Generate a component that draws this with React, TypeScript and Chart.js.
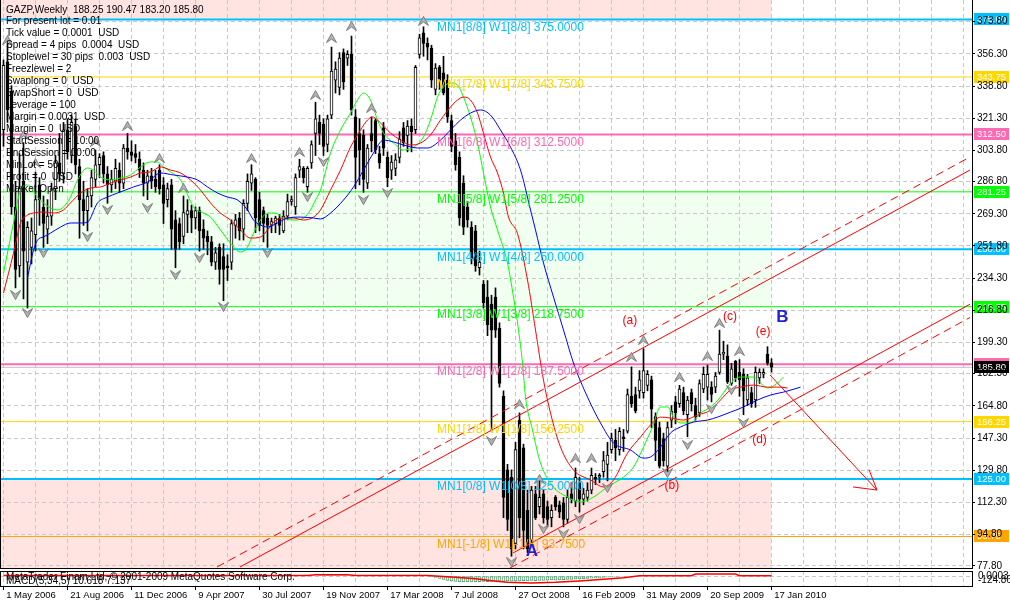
import React, { useEffect, useRef } from 'react';
import { Chart, registerables } from 'chart.js';

Chart.register(...registerables);

const FONT = '"Liberation Sans", Arial, sans-serif';

// ---------- weekly candles (GAZP) ----------
const opens = [
  315, 352, 336, 273, 241, 287, 243, 251, 258, 285,
  273, 261, 268, 283, 297, 291, 315, 301, 317, 295,
  277, 271, 279, 288, 296, 301, 291, 285, 287, 293,
  286, 305, 303, 302, 299, 293, 286, 290, 288, 293,
  285, 277, 285, 266, 264, 257, 269, 271, 267, 271,
  261, 257, 254, 243, 251, 246, 241, 243, 263, 267,
  261, 275, 286, 288, 277, 271, 267, 263, 264, 267,
  260, 268, 276, 273, 293, 294, 284, 297, 313, 319,
  318, 307, 323, 342, 338, 357, 354, 356, 322, 313,
  312, 286, 313, 320, 302, 316, 300, 293, 294, 300,
  316, 312, 317, 315, 356, 367.7, 362, 359.5, 337, 349,
  346, 342, 320, 309, 300, 286, 273, 262, 260, 240,
  231, 224, 220, 224, 207, 170, 130, 126, 90, 157,
  142, 108, 92, 117, 110, 117, 110, 104, 115, 111,
  112, 103, 117, 113, 123, 114, 115, 119, 126, 126,
  129, 133, 141, 146, 141, 148, 151, 170, 171, 173,
  172, 176, 179, 159, 153, 147, 132, 157, 167, 166,
  172, 160, 172, 165, 161, 174, 175, 175, 175, 183,
  193, 192, 177, 189, 183, 182, 168, 172, 168, 180,
  182, 193, 188.25,
];
const highs = [
  353, 362, 339, 287, 302, 308, 265, 267, 292, 289,
  279, 277, 286, 301, 313, 319, 321, 323, 321, 299,
  287, 283, 293, 304, 302, 303, 295, 293, 299, 297,
  307, 313, 309, 307, 303, 297, 293, 294, 293, 296,
  289, 286, 288, 271, 267, 279, 277, 274, 273, 273,
  266, 260, 257, 251, 253, 253, 247, 266, 269, 270,
  277, 291, 296, 289, 281, 273, 269, 267, 268, 269,
  271, 280, 279, 291, 299, 295, 295, 309, 330, 323,
  321, 323, 360, 352, 357, 359, 358, 366, 326, 321,
  315, 307, 322, 321, 306, 319, 303, 301, 302, 314,
  319, 320, 321, 350, 367, 371, 365, 361, 351, 350,
  355, 345, 323, 313, 303, 290, 276, 265, 263, 249,
  233, 233, 225, 229, 210, 173, 133, 130, 145, 161,
  144, 119, 121, 121, 124, 119, 113, 111, 116, 113,
  115, 119, 123, 131, 126, 120, 123, 131, 128, 128,
  140, 145, 150, 152, 153, 152, 174, 186, 175, 184,
  196, 184, 181, 161, 156, 150, 156, 165, 170, 176,
  175, 170, 174, 169, 179, 186, 187, 178, 183, 206,
  200, 198, 188, 189.5, 190, 185, 182, 175, 186, 185,
  185, 197, 190.47,
];
const lows = [
  306, 319, 269, 229, 235, 223, 218, 242, 249, 263,
  251, 253, 263, 277, 287, 286, 299, 297, 291, 256,
  263, 260, 273, 284, 289, 286, 275, 281, 283, 281,
  283, 299, 298, 297, 289, 279, 277, 283, 281, 280,
  264, 273, 250, 240, 250, 253, 259, 259, 261, 249,
  250, 247, 241, 239, 231, 222, 233, 239, 256, 255,
  255, 271, 282, 259, 260, 254, 251, 259, 259, 258,
  259, 266, 274, 269, 289, 286, 281, 294, 301, 307,
  301, 303, 321, 335, 334, 337, 350, 323, 283, 285,
  281, 283, 303, 302, 294, 301, 284, 288, 290, 297,
  306, 303, 303, 313, 354, 355, 353, 338, 334, 337,
  334, 319, 303, 293, 263, 258, 262, 242, 238, 236,
  218, 203, 151, 202, 175, 104, 97, 83, 87, 93,
  87, 85, 89, 103, 106, 101, 99, 99, 108, 104,
  99, 101, 112, 110, 107, 111, 113, 117, 122, 123,
  126, 124, 139, 135, 138, 140, 150, 164, 161, 169,
  169, 173, 153, 135, 131, 132, 129, 153, 155, 164,
  160, 148, 162, 157, 159, 172, 168, 167, 172, 182,
  190, 177, 176, 178, 170, 160, 165, 164, 164, 177,
  180, 187, 183.2,
];
const closes = [
  350, 326, 273, 239, 283, 249, 262, 260, 277, 277,
  264, 268, 283, 297, 291, 315, 303, 319, 296, 277,
  271, 279, 289, 296, 300, 291, 285, 288, 294, 286,
  305, 303, 301, 300, 293, 286, 290, 287, 284, 283,
  275, 283, 261, 250, 254, 270, 271, 267, 271, 260,
  256, 254, 243, 248, 239, 239, 240, 264, 266, 260,
  275, 287, 291, 267, 263, 264, 263, 265, 267, 263,
  268, 276, 277, 289, 295, 289, 294, 307, 321, 313,
  306, 321, 347, 348, 354, 341, 356, 326, 300, 304,
  288, 305, 309, 304, 297, 305, 289, 297.5, 298.6, 310,
  308, 317, 314, 349, 365, 362, 360, 342, 348.6, 342,
  335, 322, 306, 296, 267, 262, 266, 245, 241, 243,
  221, 209, 206, 206, 177, 115, 103, 87, 141, 104,
  97, 87, 119, 104, 115, 104, 103, 108, 110, 107,
  103, 115, 114, 126, 114, 117, 119, 127, 125, 127,
  135, 138, 147, 142, 151, 147, 171, 166, 162, 179,
  184, 182, 163, 146, 132, 135, 153, 162, 161, 174,
  162, 168, 166, 159, 177, 182, 182, 171, 181, 193,
  194, 178, 185, 180, 179, 173, 180, 166, 183, 183,
  183, 188, 185.8,
];

const dateLabels = [
  '1 May 2006', '21 Aug 2006', '11 Dec 2006', '9 Apr 2007', '30 Jul 2007',
  '19 Nov 2007', '17 Mar 2008', '7 Jul 2008', '27 Oct 2008', '16 Feb 2009',
  '31 May 2009', '20 Sep 2009', '17 Jan 2010',
];
const priceTicks = [
  373.8, 356.3, 338.8, 321.3, 303.8, 286.8, 269.3, 251.8, 234.3,
  216.8, 199.3, 182.3, 164.8, 147.3, 129.8, 112.3, 94.8, 77.8,
];

// ---------- Alligator lines [bar, price] ----------
const lipsGreen = [
  [0, 237.1], [2.5, 264.3], [4.25, 282.2], [6, 285.0], [8.5, 278.4], [10, 275.2], [11.75, 272.4],
  [13.5, 271.4], [15, 273.0], [16.75, 278.4], [18.5, 287.7], [21, 294.2], [22.5, 293.1], [24.25, 289.3],
  [26.75, 287.7], [29.25, 288.8], [31.75, 290.4], [34.25, 294.8], [36.75, 297.5], [38.5, 297.5], [40, 294.8],
  [41.75, 292.1], [44.25, 287.7], [45.5, 282.2], [47.5, 273.0], [50, 269.7], [51.75, 267.5], [54.25, 260.5],
  [56.75, 253.4], [59.25, 248.5], [61, 251.2], [62.5, 258.8], [64.25, 265.9], [66, 269.7], [68, 269.7],
  [70, 267.0], [72.5, 265.9], [75, 267.0], [76.75, 271.4], [78, 276.8], [79.25, 282.2], [81.75, 302.4],
  [84.25, 314.9], [86.75, 324.1], [88.5, 331.2], [90, 335.0], [91.75, 331.2], [93.5, 320.3], [95, 313.2],
  [97.5, 307.8], [100, 304.0], [102.5, 305.6], [105, 311.1], [106.75, 320.3], [108.5, 332.8], [110, 338.3],
  [111.75, 340.5], [113.5, 339.4], [115, 332.8], [116.75, 322.0], [118.5, 307.8], [120, 291.5], [121.75, 273.0],
  [123.5, 260.5], [126, 242.5], [127.5, 224.0], [128.75, 206.1], [129.75, 188.1], [130.5, 169.6], [132.25, 151.7],
  [134.25, 133.7], [137.5, 120.7], [141, 115.2], [144.25, 112.5], [147.5, 115.2], [151, 120.7], [155, 126.1],
  [157.5, 131.5], [160, 142.4], [162.25, 153.3], [164.25, 164.2], [166, 164.2], [167.5, 158.7], [169.25, 155.5],
  [171.75, 155.5], [174.25, 160.9], [176.75, 164.2], [179.25, 169.6], [181, 175.0], [182.5, 178.8], [184.25, 180.5],
  [187.5, 180.5], [189.25, 177.2], [191, 174.5], [193.5, 177.2], [195, 180.5],
];
const teethRed = [
  [0, 226.2], [2.5, 247.9], [4.25, 264.3], [6, 268.6], [7.5, 269.7], [10, 270.3], [12.5, 269.7],
  [15, 271.4], [16.75, 275.2], [19.25, 280.6], [21.75, 283.3], [24.25, 283.9], [26.75, 286.0], [29.25, 287.7],
  [31.75, 289.3], [34.25, 291.5], [36.75, 292.1], [39.25, 294.8], [41.75, 293.1], [44.25, 291.5], [46.75, 287.7],
  [49.25, 282.2], [51.75, 275.2], [54.25, 269.7], [56.75, 265.9], [59.25, 260.5], [61.75, 256.1], [64.25, 256.7],
  [66, 260.5], [67.5, 264.8], [70, 267.0], [72.5, 267.0], [75, 265.9], [77.5, 267.5], [79.25, 271.4],
  [81.75, 282.2], [84.25, 293.1], [86.75, 305.6], [89.25, 314.9], [91, 320.3], [92.25, 322.0], [94.25, 318.7],
  [96.75, 313.2], [99.25, 309.4], [101.75, 306.7], [104.25, 307.8], [106.75, 312.2], [109.25, 320.3], [111.75, 327.4],
  [113.5, 331.2], [115, 332.8], [116.75, 331.2], [118.5, 324.1], [120, 313.2], [121.75, 300.2], [123.5, 291.5],
  [125, 280.6], [126.25, 267.5], [128.5, 258.5], [131, 233.3], [133, 206.1], [135, 178.8], [136.75, 160.9],
  [139.25, 142.4], [142.5, 129.9], [146.75, 124.5], [150, 120.7], [152.5, 124.5], [156, 139.1], [159.25, 147.9],
  [161.75, 154.4], [164.25, 158.7], [166.75, 158.2], [170, 157.1], [173.5, 159.8], [176.75, 162.5], [179.25, 168.0],
  [181.75, 173.4], [184.25, 175.0], [187.5, 176.1], [191, 175.0], [194.25, 175.0], [196, 174.5],
];
const jawBlue = [
  [6, 234.4], [7.5, 249.5], [8.5, 255.0], [10, 256.7], [11.75, 258.8], [14.25, 262.1], [16.75, 264.3],
  [19.25, 264.3], [21, 264.8], [23.5, 275.2], [26, 278.4], [28.5, 280.6], [32.5, 283.9], [36, 286.6],
  [39.25, 291.5], [42.5, 290.4], [46, 289.3], [48.5, 287.7], [51, 283.9], [53.5, 280.6], [56, 278.4],
  [58.5, 276.8], [61, 271.4], [62.5, 265.9], [64.25, 263.2], [66, 262.1], [68.5, 264.3], [71, 267.0],
  [74.25, 267.5], [77.5, 267.0], [79.25, 266.5], [81.75, 269.7], [85, 276.8], [87.5, 283.9], [90, 293.1],
  [92.5, 302.4], [95, 309.4], [97.5, 308.4], [100, 306.7], [103.5, 305.1], [106, 305.1], [109.25, 309.4],
  [111.75, 314.9], [114.25, 320.3], [116.75, 324.1], [119.25, 325.8], [121.75, 323.0], [124.25, 314.9], [126.75, 305.6],
  [129.25, 293.1], [131.75, 271.4], [133, 260.5], [135, 242.5], [137.5, 224.0], [140, 206.1], [142.5, 188.1],
  [146, 169.6], [149.25, 155.5], [152.5, 144.6], [156.75, 140.8], [160, 136.4], [161.75, 137.0], [164.25, 142.4],
  [166.75, 150.1], [169.25, 153.3], [172.5, 156.0], [176, 157.1], [178.5, 158.7], [181.75, 161.4], [185, 164.2],
  [188.5, 168.0], [191.75, 170.7], [195, 172.3], [199.25, 175.0],
];

// ---------- fractals [bar, price] ----------
const fractalsUp = [
  [1, 363.8], [5, 312.2], [8, 296.9], [23, 308.4], [31, 317.1], [39, 299.6], [45, 283.3], [62, 299.6],
  [74, 302.9], [78, 333.9], [82, 364.9], [87, 371.5], [92, 326.8], [105, 374.2], [129, 165.8], [134, 125.0],
  [143, 136.4], [147, 136.4], [157, 191.4], [160, 200.6], [169, 180.5], [176, 191.9], [179, 209.9], [184, 194.6],
];
const fractalsDown = [
  [3, 225.1], [6, 215.3], [10, 248.0], [21, 256.7], [26, 271.4], [36, 272.4], [43, 236.0], [49, 245.2],
  [55, 218.6], [66, 248.0], [76, 278.4], [80, 297.5], [90, 276.8], [96, 280.6], [122, 145.7], [127, 79.8],
  [135, 97.8], [140, 95.1], [144, 103.2], [151, 120.1], [166, 128.3], [171, 143.5], [177, 163.1], [182, 173.4],
  [185, 155.5],
];

// ---------- Murrey Math levels ----------
const mmLevels = [375, 343.75, 312.5, 281.25, 250, 218.75, 187.5, 156.25, 125, 93.75];
const mmNames = [
  'MN1[8/8] W1[8/8] 375.0000', 'MN1[7/8] W1[7/8] 343.7500', 'MN1[6/8] W1[6/8] 312.5000',
  'MN1[5/8] W1[5/8] 281.2500', 'MN1[4/8] W1[4/8] 250.0000', 'MN1[3/8] W1[3/8] 218.7500',
  'MN1[2/8] W1[2/8] 187.5000', 'MN1[1/8] W1[1/8] 156.2500', 'MN1[0/8] W1[0/8] 125.0000',
  'MN1[-1/8] W1[-1/8] 93.7500',
];
const mmColors = ['#00bfff', '#ffd700', '#ff69b4', '#00ff00', '#00bfff', '#00ff00', '#ff69b4', '#ffd700', '#00bfff', '#ffa500'];
const mmWidths = [2, 1, 2, 1, 2, 1, 2, 1, 2, 1];
const mmLabelBar = 108.4;
const bidPrice = 185.8;
const lastBar = 192;

// ---------- channel lines and arrow [bar, price] ----------
const channelUpperDashed = [[53.375, 77.16], [241.625, 300.2]];
const channelUpperSolid = [[59.125, 77.16], [241.625, 293.1]];
const channelLowerSolid = [[127.375, 84.8], [241.625, 220.1]];
const channelLowerDashed = [[126.625, 76.6], [241.625, 212.9]];
const arrowShaft = [[191.625, 181.6], [218.375, 119.0]];
const arrowWing1 = [[212.375, 120.7], [218.375, 119.0]];
const arrowWing2 = [[216.375, 130.1], [218.375, 119.0]];

const waveLabels = [
  { text: '(a)', bar: 156.6, price: 211.0, color: '#ff0000', font: '12px' },
  { text: '(b)', bar: 167.1, price: 121.2, color: '#ff0000', font: '12px' },
  { text: '(c)', bar: 181.6, price: 213.2, color: '#ff0000', font: '12px' },
  { text: '(d)', bar: 189.0, price: 146.2, color: '#ff0000', font: '12px' },
  { text: '(e)', bar: 189.9, price: 205.0, color: '#ff0000', font: '12px' },
  { text: 'B', bar: 194.75, price: 213.2, color: '#1f1fdc', font: 'bold 17px' },
  { text: 'A', bar: 132.1, price: 85.9, color: '#1f1fdc', font: 'bold 17px' },
];

const headerText = 'GAZP,Weekly  188.25 190.47 183.20 185.80';
const infoLines = [
  'For present lot = 0.01', 'Tick value = 0.0001  USD', 'Spread = 4 pips  0.0004  USD',
  'Stoplewel = 30 pips  0.003  USD', 'Freezlewel = 2', 'Swaplong = 0  USD', 'SwapShort = 0  USD',
  'Leverage = 100', 'Margin = 0.0031  USD', 'Margin = 0  USD', 'StartSession = 10:00',
  'EndSession = 00:00', 'MinLot = 50', 'Profit = 0  USD', 'Market Open',
];

// ---------- MACD(5,34,5) ----------
const macdSignal = [
  [0, 3], [76, 3], [78, 8], [86, 8], [88, 3], [106, 3], [112, -6], [118, -16], [122, -28], [126, -38],
  [132, -42], [138, -38], [144, -30], [150, -20], [155, -10], [159, 1], [172, 2], [173, 12], [183, 12],
  [184, 2], [192, 2],
];
const macdHistUpStart = 79;
const macdHistUp = [6, 9, 12, 12, 10, 8, 6, 4];
const macdHistDownStart = 107;
const macdHistDown = [
  -4, -8, -14, -20, -26, -30, -33, -35, -36, -36, -35, -36, -34, -33, -34, -32, -33, -31, -32, -30,
  -31, -29, -30, -28, -29, -27, -28, -26, -27, -25, -24, -25, -23, -22, -21, -20, -19, -18, -16, -15,
  -13, -12, -10, -9, -7, -6, -4, -3, -2,
];

// ---------- scale ranges ----------
const X_MIN = -0.875;
const X_MAX = 242.125;
const Y_MAX = 385.608;
const Y_MIN = 76.608;
const gridTicks = Array.from({ length: 31 }, (_, k) => k * 8);

function makeArrow(up: boolean) {
  const c = document.createElement('canvas');
  c.width = 11;
  c.height = 10;
  const g = c.getContext('2d')!;
  g.beginPath();
  if (up) {
    g.moveTo(0.5, 9.5); g.lineTo(5.5, 0.5); g.lineTo(10.5, 9.5); g.lineTo(5.5, 6);
  } else {
    g.moveTo(0.5, 0.5); g.lineTo(5.5, 9.5); g.lineTo(10.5, 0.5); g.lineTo(5.5, 4);
  }
  g.closePath();
  g.fillStyle = '#b4b4b4';
  g.fill();
  g.strokeStyle = '#7a7a7a';
  g.lineWidth = 1;
  g.stroke();
  return c;
}

const pts = (arr: number[][]) => arr.map(([x, y]) => ({ x, y }));

function lineDs(data: any[], color: string, width: number, order: number, extra: any = {}) {
  return {
    type: 'line',
    data,
    borderColor: color,
    borderWidth: width,
    pointRadius: 0,
    fill: false,
    order,
    ...extra,
  };
}

export default function App() {
  const mainRef = useRef<HTMLCanvasElement>(null);
  const macdRef = useRef<HTMLCanvasElement>(null);

  useEffect(() => {
    const upImg = makeArrow(true);
    const downImg = makeArrow(false);
    const idx = opens.map((_, i) => i);

    const wickData = idx.map((i) => ({ x: i, y: [lows[i], highs[i]] }));
    const bullData = idx.filter((i) => closes[i] >= opens[i]).map((i) => ({ x: i, y: [opens[i], closes[i]] }));
    const bearData = idx.filter((i) => closes[i] < opens[i]).map((i) => ({ x: i, y: [opens[i], closes[i]] }));

    const datasets: any[] = [];
    // shading
    datasets.push(lineDs(pts([[X_MIN, Y_MAX], [lastBar, Y_MAX]]), 'rgba(0,0,0,0)', 0, 20, { fill: { value: mmLevels[0] }, backgroundColor: '#ffe4e1' }));
    datasets.push(lineDs(pts([[X_MIN, mmLevels[3]], [lastBar, mmLevels[3]]]), 'rgba(0,0,0,0)', 0, 20, { fill: { value: mmLevels[5] }, backgroundColor: '#f0fff0' }));
    datasets.push(lineDs(pts([[X_MIN, mmLevels[8]], [lastBar, mmLevels[8]]]), 'rgba(0,0,0,0)', 0, 20, { fill: { value: Y_MIN }, backgroundColor: '#ffe4e1' }));
    // murrey lines
    mmLevels.forEach((lv, i) => {
      datasets.push(lineDs(pts([[X_MIN, lv], [X_MAX, lv]]), mmColors[i], mmWidths[i], 10));
    });
    datasets.push(lineDs(pts([[X_MIN, bidPrice], [X_MAX, bidPrice]]), '#c0c0c0', 1, 10));
    // candles
    const barCommon = { type: 'bar', grouped: false, borderSkipped: false };
    datasets.push({ ...barCommon, data: wickData, barThickness: 1, backgroundColor: '#000', borderWidth: 0, order: 8 });
    datasets.push({ ...barCommon, data: bullData, barThickness: 3, backgroundColor: '#fff', borderColor: '#000', borderWidth: 1, order: 7 });
    datasets.push({ ...barCommon, data: bearData, barThickness: 3, backgroundColor: '#000', borderColor: '#000', borderWidth: 1, order: 7 });
    // channels & arrow
    datasets.push(lineDs(pts(channelUpperDashed), '#ff0000', 1, 3, { borderDash: [8, 5] }));
    datasets.push(lineDs(pts(channelUpperSolid), '#ff0000', 1, 3));
    datasets.push(lineDs(pts(channelLowerSolid), '#ff0000', 1, 3));
    datasets.push(lineDs(pts(channelLowerDashed), '#ff0000', 1, 3, { borderDash: [8, 5] }));
    datasets.push(lineDs(pts(arrowShaft), '#ff0000', 1, 3));
    datasets.push(lineDs(pts(arrowWing1), '#ff0000', 1, 3));
    datasets.push(lineDs(pts(arrowWing2), '#ff0000', 1, 3));
    // alligator
    const smooth = { cubicInterpolationMode: 'monotone' };
    datasets.push(lineDs(pts(jawBlue), '#0000ff', 1, 2, smooth));
    datasets.push(lineDs(pts(teethRed), '#ff0000', 1, 2, smooth));
    datasets.push(lineDs(pts(lipsGreen), '#00ff00', 1, 2, smooth));
    // fractals
    datasets.push(lineDs(pts(fractalsUp), 'rgba(0,0,0,0)', 0, 1, { showLine: false, pointRadius: 5, pointStyle: upImg }));
    datasets.push(lineDs(pts(fractalsDown), 'rgba(0,0,0,0)', 0, 1, { showLine: false, pointRadius: 5, pointStyle: downImg }));

    const mainDecor = {
      id: 'mainDecor',
      beforeDraw(chart: any) {
        const { ctx } = chart;
        const y = chart.scales.y;
        ctx.save();
        ctx.font = `9.5px ${FONT}`;
        ctx.textBaseline = 'middle';
        ctx.textAlign = 'left';
        mmLevels.forEach((lv, i) => {
          const py = Math.round(y.getPixelForValue(lv));
          ctx.fillStyle = mmColors[i];
          ctx.fillRect(974, py - 6, 35, 12);
          ctx.fillStyle = '#fff';
          ctx.fillText(lv.toFixed(2), 977, py + 0.5);
        });
        const pb = Math.round(y.getPixelForValue(bidPrice));
        ctx.fillStyle = '#000';
        ctx.fillRect(974, pb - 6, 35, 12);
        ctx.fillStyle = '#fff';
        ctx.fillText(bidPrice.toFixed(2), 977, pb + 0.5);
        ctx.restore();
      },
      afterDatasetsDraw(chart: any) {
        const { ctx } = chart;
        const x = chart.scales.x;
        const y = chart.scales.y;
        ctx.save();
        ctx.textAlign = 'left';
        ctx.textBaseline = 'top';
        ctx.font = `12px ${FONT}`;
        const lx = x.getPixelForValue(mmLabelBar);
        mmLevels.forEach((lv, i) => {
          ctx.fillStyle = mmColors[i];
          ctx.fillText(mmNames[i], lx, y.getPixelForValue(lv) + 2);
        });
        ctx.textAlign = 'center';
        ctx.textBaseline = 'middle';
        waveLabels.forEach((w) => {
          ctx.font = `${w.font} ${FONT}`;
          ctx.fillStyle = w.color;
          ctx.fillText(w.text, x.getPixelForValue(w.bar), y.getPixelForValue(w.price));
        });
        ctx.textAlign = 'left';
        ctx.textBaseline = 'alphabetic';
        ctx.font = `10px ${FONT}`;
        ctx.fillStyle = '#000';
        ctx.fillText(headerText, 6, 13);
        infoLines.forEach((t, k) => ctx.fillText(t, 6, 24 + 12 * k));
        ctx.restore();
      },
      afterDraw(chart: any) {
        const { ctx, chartArea } = chart;
        ctx.save();
        ctx.fillStyle = '#000';
        ctx.fillRect(0, chartArea.top, 1, chartArea.bottom - chartArea.top);
        ctx.restore();
      },
    };

    const main = new Chart(mainRef.current!, {
      type: 'bar',
      data: { datasets },
      plugins: [mainDecor],
      options: {
        responsive: false,
        devicePixelRatio: 1,
        animation: false,
        events: [],
        layout: { autoPadding: false, padding: { left: 0, right: 0, top: 0, bottom: 1 } },
        plugins: { legend: { display: false }, tooltip: { enabled: false }, filler: { drawTime: 'beforeDraw' } },
        scales: {
          x: {
            type: 'linear',
            min: X_MIN,
            max: X_MAX,
            offset: false,
            afterBuildTicks: (s: any) => { s.ticks = gridTicks.map((v) => ({ value: v })); },
            afterFit: (s: any) => { s.height = 0; s.paddingLeft = 0; s.paddingRight = 0; },
            ticks: { display: false },
            grid: { color: '#c8c8c8', drawTicks: false, offset: false },
            border: { display: true, color: '#000', dash: [4, 3] },
          },
          y: {
            type: 'linear',
            position: 'right',
            min: Y_MIN,
            max: Y_MAX,
            afterBuildTicks: (s: any) => { s.ticks = priceTicks.map((v) => ({ value: v })); },
            afterFit: (s: any) => { s.width = 38; s.paddingTop = 0; s.paddingBottom = 0; },
            ticks: {
              autoSkip: false,
              color: '#000',
              padding: 2,
              font: { family: FONT, size: 10 },
              callback: (v: any) => Number(v).toFixed(2),
            },
            grid: { color: '#c8c8c8', tickColor: '#000', tickLength: 3 },
            border: { display: true, color: '#000', dash: [4, 3] },
          },
        },
      },
    } as any);

    // ---------- MACD pane ----------
    const macdDatasets: any[] = [
      {
        type: 'bar', grouped: false, borderSkipped: false, order: 3,
        data: macdHistUp.map((v, k) => ({ x: macdHistUpStart + k, y: v })),
        barThickness: 3, backgroundColor: '#fff', borderColor: '#4e9e6e', borderWidth: 1,
      },
      {
        type: 'bar', grouped: false, borderSkipped: false, order: 3,
        data: macdHistDown.map((v, k) => ({ x: macdHistDownStart + k, y: v })),
        barThickness: 3, backgroundColor: '#fff', borderColor: '#4e9e6e', borderWidth: 1,
      },
      lineDs(pts(macdSignal), '#ff0000', 1.5, 1),
    ];

    const macdDecor = {
      id: 'macdDecor',
      afterDraw(chart: any) {
        const { ctx, chartArea } = chart;
        ctx.save();
        ctx.fillStyle = '#000';
        ctx.fillRect(0, chartArea.top, 973, 1);
        ctx.fillRect(0, chartArea.top, 1, chartArea.bottom - chartArea.top);
        ctx.font = `10px ${FONT}`;
        ctx.textAlign = 'left';
        ctx.textBaseline = 'alphabetic';
        ctx.fillText('MetaTrader Finam Ltd, \u00a9 2001-2009 MetaQuotes Software Corp.', 6, 11);
        ctx.fillText('MACD(5,34,5) 10.618 7.137', 6, 15);
        ctx.fillText('0.0003', 978, 10);
        ctx.fillText('-124.8661', 978, 14);
        ctx.restore();
      },
    };

    const macd = new Chart(macdRef.current!, {
      type: 'bar',
      data: { datasets: macdDatasets },
      plugins: [macdDecor],
      options: {
        responsive: false,
        devicePixelRatio: 1,
        animation: false,
        events: [],
        layout: { autoPadding: false, padding: { left: 0, right: 0, top: 2, bottom: 0 } },
        plugins: { legend: { display: false }, tooltip: { enabled: false } },
        scales: {
          x: {
            type: 'linear',
            min: X_MIN,
            max: X_MAX,
            offset: false,
            afterBuildTicks: (s: any) => { s.ticks = gridTicks.map((v) => ({ value: v })); },
            afterFit: (s: any) => { s.height = 17; s.paddingLeft = 0; s.paddingRight = 0; },
            ticks: {
              autoSkip: false,
              maxRotation: 0,
              minRotation: 0,
              align: 'start',
              padding: 0,
              color: '#000',
              font: { family: FONT, size: 9.5 },
              callback: (v: any) => {
                const n = Number(v);
                return n % 16 === 0 && n / 16 < dateLabels.length ? ' ' + dateLabels[n / 16] : '';
              },
            },
            grid: {
              color: '#c8c8c8',
              tickLength: 4,
              offset: false,
              tickColor: (c: any) => (c.tick && c.tick.value % 16 === 0 && c.tick.value / 16 < dateLabels.length ? '#000' : 'rgba(0,0,0,0)'),
            },
            border: { display: true, color: '#000', dash: [4, 3] },
          },
          y: {
            type: 'linear',
            position: 'right',
            min: -60,
            max: 30,
            afterBuildTicks: (s: any) => { s.ticks = [{ value: 0 }]; },
            afterFit: (s: any) => { s.width = 38; s.paddingTop = 0; s.paddingBottom = 0; },
            ticks: { display: false },
            grid: { color: '#c8c8c8', drawTicks: false },
            border: { display: true, color: '#000', dash: [4, 3] },
          },
        },
      },
    } as any);

    return () => {
      main.destroy();
      macd.destroy();
    };
  }, []);

  return (
    <div style={{ position: 'absolute', left: 0, top: 0, width: 1010, height: 603, background: '#fff' }}>
      <canvas ref={mainRef} width={1010} height={569} style={{ display: 'block', width: 1010, height: 569 }} />
      <canvas ref={macdRef} width={1010} height={34} style={{ display: 'block', width: 1010, height: 34 }} />
    </div>
  );
}
